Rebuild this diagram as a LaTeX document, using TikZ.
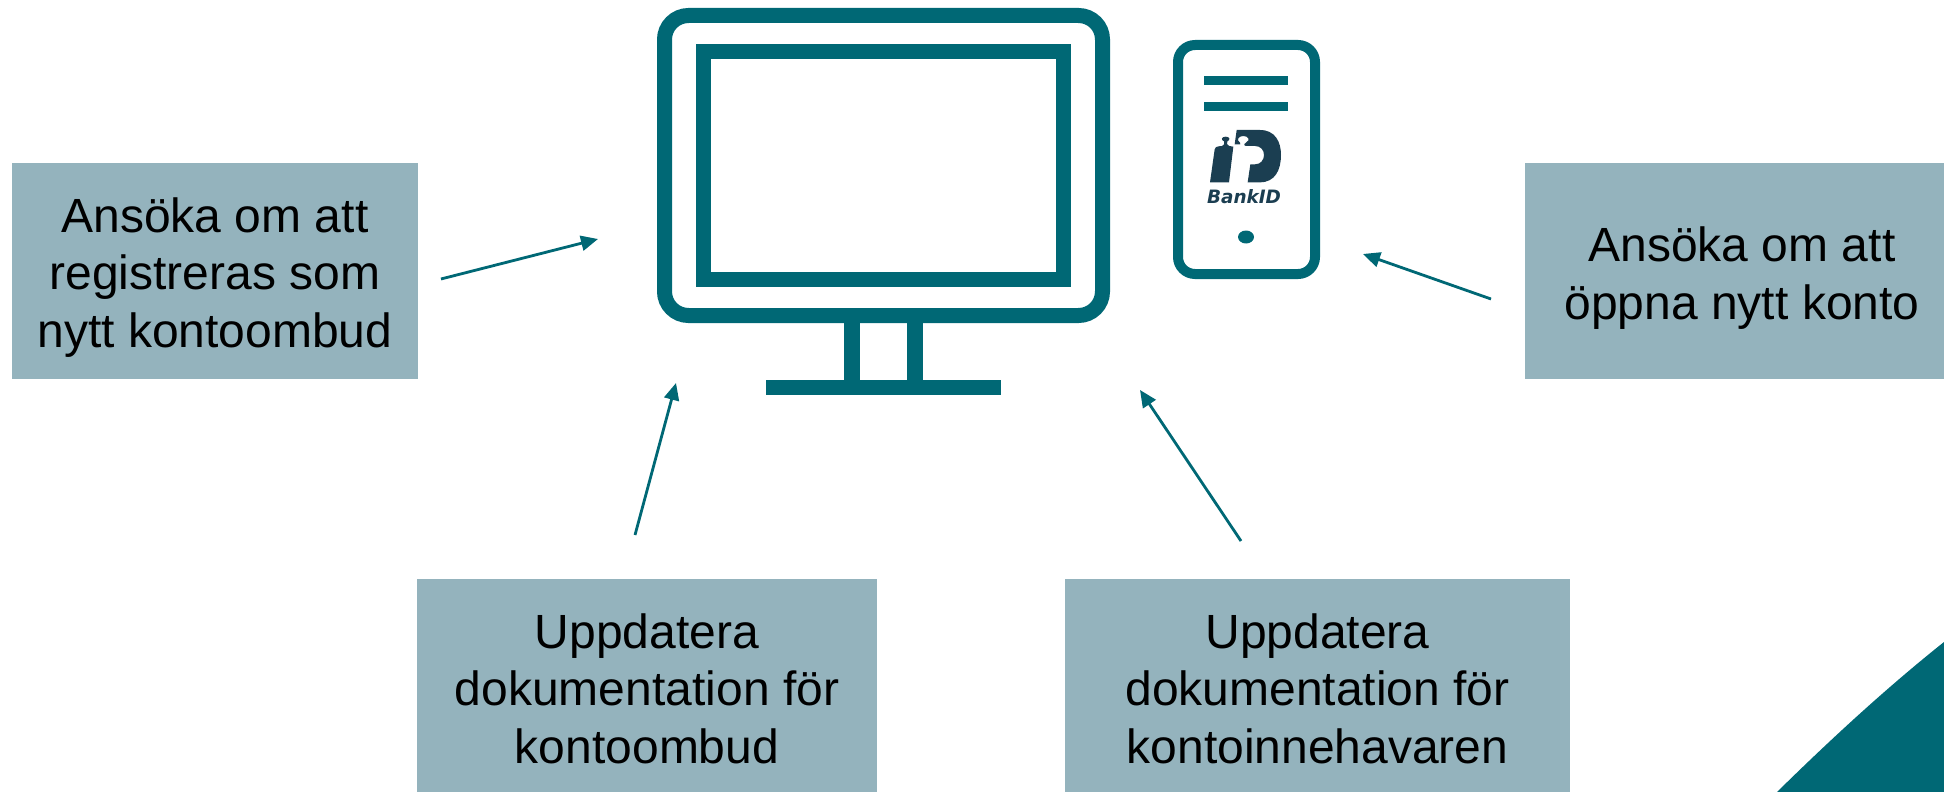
\documentclass[tikz,border=0pt]{standalone}
\usepackage{fontspec}
\setmainfont{Liberation Sans}
\newfontfamily\bankfont{DejaVu Sans}
\usetikzlibrary{arrows.meta}
\definecolor{kontoteal}{HTML}{006875}
\definecolor{kontoblue}{HTML}{94B3BD}
\definecolor{bankdark}{HTML}{1B3E51}
\begin{document}
\begin{tikzpicture}[->,>={Triangle[length=17pt,width=15pt]},line width=2.8pt,draw=kontoteal,x=1pt,y=-1pt,
    taskbox/.style={fill=kontoblue,minimum height=216pt,inner sep=0pt,align=center,
      text height=153.6pt,text depth=0.4pt,font=\fontsize{48}{57.8}\selectfont},
    iconline/.style={draw=kontoteal,line width=15pt},
    iconfill/.style={fill=kontoteal,draw=none},
    logofill/.style={fill=bankdark,draw=none}]
  \useasboundingbox (0,0) rectangle (1944,792);
  \clip (0,0) rectangle (1944,792);
  \fill[kontoteal] (1777,792) .. controls (1835,735) and (1890,685) .. (1944,642) -- (1944,792) -- cycle;
  \node (newagent) [taskbox,minimum width=406pt] at (215,271) {Ansöka om att\\registreras som\\nytt kontoombud};
  \node (agentdocs) [taskbox,minimum width=460pt] at (647,687) {Uppdatera\\dokumentation för\\kontoombud};
  \node (holderdocs) [taskbox,minimum width=505pt] at (1317.5,687) {Uppdatera\\dokumentation för\\kontoinnehavaren};
  \node (newaccount) [taskbox,minimum width=434pt,text height=97.8pt] at (1742,271) {Ansöka om att\\öppna nytt konto};
  % monitor
  \draw[iconline,rounded corners=24pt] (664.5,15.5) rectangle (1102.5,315.5);
  \draw[iconline] (703.5,51.5) rectangle (1063.5,279.5);
  \fill[iconfill] (844,320) rectangle (860,385);
  \fill[iconfill] (907,320) rectangle (923,385);
  \fill[iconfill] (766,380) rectangle (1001,395);
  % phone
  \draw[iconline,line width=10pt,rounded corners=17pt] (1178,45) rectangle (1315,274);
  \fill[iconfill] (1204,76) rectangle (1288,85);
  \fill[iconfill] (1204,102) rectangle (1288,111);
  \fill[iconfill] (1246,237) ellipse (8pt and 6.5pt);
  % logo
  \begin{scope}[shift={(1200,120)},scale=0.3333]
    \fill[logofill] (110,30) -- (180,30) .. controls (225,30) and (243,65) .. (243,105)
      .. controls (243,150) and (225,187) .. (180,187) -- (143,187) -- (151,133) -- (165,133)
      .. controls (182,133) and (192,120) .. (192,105) .. controls (192,90) and (182,78) .. (165,78)
      -- (140,78) .. controls (132,78) and (130,72) .. (138,68) .. controls (152,60) and (145,48) .. (130,48)
      .. controls (115,48) and (108,60) .. (120,68) .. controls (125,72) and (120,75) .. (112,73)
      -- (104,73) -- cycle;
    \fill[logofill] (30,187) -- (44,88) .. controls (45,82) and (50,79) .. (56,79) -- (66,78)
      .. controls (74,76) and (74,70) .. (72,64) .. controls (62,60) and (64,50) .. (77,50)
      .. controls (90,50) and (92,60) .. (82,64) .. controls (80,70) and (80,76) .. (88,78)
      -- (100,80) -- (87,187) -- cycle;
  \end{scope}
  \node (bankname) [inner sep=0pt,text=bankdark,font=\bankfont\fontsize{18.4}{18.4}\selectfont\bfseries\itshape,anchor=base] at (1244,203) {BankID};
  % arrows
  \coordinate (newagentfrom) at (441,279);
  \coordinate (newagentto) at (598,239);
  \coordinate (agentdocsfrom) at (635,535);
  \coordinate (agentdocsto) at (676,383);
  \coordinate (holderdocsfrom) at (1241,541);
  \coordinate (holderdocsto) at (1140,390);
  \coordinate (newaccountfrom) at (1491,299);
  \coordinate (newaccountto) at (1363,254);
  \path (newagentfrom) edge (newagentto);
  \path (agentdocsfrom) edge (agentdocsto);
  \path (holderdocsfrom) edge (holderdocsto);
  \path (newaccountfrom) edge (newaccountto);
\end{tikzpicture}
\end{document}
